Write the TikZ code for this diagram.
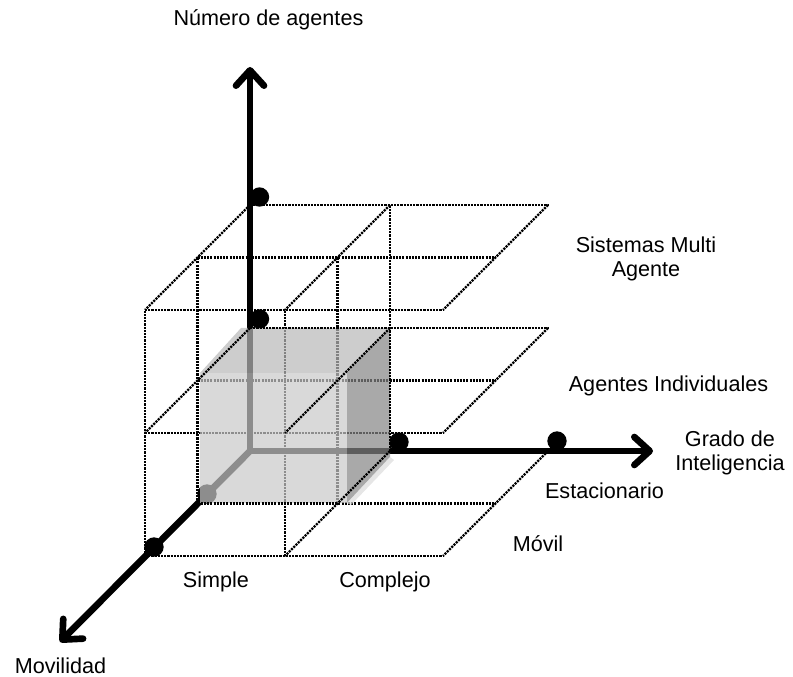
\documentclass[tikz,border=0pt]{standalone}
\usepackage{fontspec}
\setmainfont{Liberation Sans}
\usetikzlibrary{arrows.meta}
\begin{document}
\begin{tikzpicture}[
  x={(0.75pt,0)}, y={(0,-0.75pt)}, z={(-39.375pt,-39.375pt)},
  gridline/.style={line width=1.7pt, dash pattern=on 1.6pt off 0.8pt},
  axisline/.style={line width=5pt, line cap=round,
    -{Straight Barb[length=11.5pt,width=21pt,round]}},
  dot/.style={circle, fill=black, inner sep=0pt, minimum size=14.5pt},
  lbl/.style={font=\fontsize{16.2}{18}\selectfont, inner sep=0pt},
  cubeface/.style={fill opacity=0.7, draw=none}
]
\useasboundingbox (0,0) rectangle (793,677);

% levels: x positions (back row), y levels, depth in z
\def\Xa{250}\def\Xb{390}\def\Xc{548}
\def\Ya{451}\def\Yb{328}\def\Yc{205}

% lines running along the x direction
\foreach \yy in {\Yb,\Yc}
  \foreach \zz in {0,1,2}
    \draw[gridline] (\Xa,\yy,\zz) -- (\Xc,\yy,\zz);
\foreach \zz in {1,2}
  \draw[gridline] (\Xa,\Ya,\zz) -- (\Xc,\Ya,\zz);

% vertical lines
\foreach \zz in {1,2}
  \draw[gridline] (\Xa,\Ya,\zz) -- (\Xa,\Yc,\zz);
\foreach \zz in {0,1,2}
  \draw[gridline] (\Xb,\Ya,\zz) -- (\Xb,\Yc,\zz);

% axes
\coordinate (O) at (250,451);
\coordinate (tipN) at (250,67);
\coordinate (tipI) at (653,451);
\coordinate (tipM) at (60,642);
\draw[axisline] (O) -- (tipN);
\draw[axisline] (O) -- (tipI);
\draw[axisline] (O) -- (tipM);

% marks on the axes
\node[dot] (n1) at (259.5,197) {};
\node[dot] (n2) at (259.5,319) {};
\node[dot] (g1) at (399,442) {};
\node[dot] (g2) at (557,441) {};
\node[dot] (m1) at (207,494) {};
\node[dot] (m2) at (154,547) {};

% shaded cell: simple, individual, stationary
\fill[cubeface, black!28] (241,328) -- (390,328) -- (347,373) -- (200,373) -- cycle;
\fill[cubeface, black!21] (200,373) -- (347,373) -- (347,503) -- (200,503) -- cycle;
\fill[cubeface, black!48] (347,373) -- (390,328) -- (390,457) -- (347,503) -- cycle;
\fill[cubeface, black!14] (390,457) -- (394,460) -- (351,505) -- (347,503) -- cycle;

% depth lines
\foreach \yy in {\Yb,\Yc}
  \draw[gridline] (\Xa,\yy,0) -- (\Xa,\yy,2);
\foreach \xx in {\Xb,\Xc}
  \foreach \yy in {\Ya,\Yb,\Yc}
    \draw[gridline] (\xx,\yy,0) -- (\xx,\yy,2);

% outline edges of the shaded cell
\draw[gridline] (\Xa,\Yb,0) -- (\Xb,\Yb,0);
\draw[gridline] (\Xb,\Ya,0) -- (\Xb,\Yb,0);
\draw[gridline] (\Xa,\Ya,1) -- (\Xb,\Ya,1);

% labels
\node[lbl, anchor=base] (tN) at (268.5,26) {Número de agentes};
\node[lbl, anchor=base, align=center] (tSMA) at (646,277) {Sistemas Multi\\Agente};
\node[lbl, anchor=base] (tAI) at (668.5,392) {Agentes Individuales};
\node[lbl, anchor=base, align=center] (tGI) at (730,470) {Grado de\\Inteligencia};
\node[lbl, anchor=base] (tE) at (604.5,498) {Estacionario};
\node[lbl, anchor=base] (tMo) at (538,551) {Móvil};
\node[lbl, anchor=base] (tS) at (216,587) {Simple};
\node[lbl, anchor=base] (tC) at (385,587) {Complejo};
\node[lbl, anchor=base] (tMv) at (60.5,673) {Movilidad};
\end{tikzpicture}
\end{document}
